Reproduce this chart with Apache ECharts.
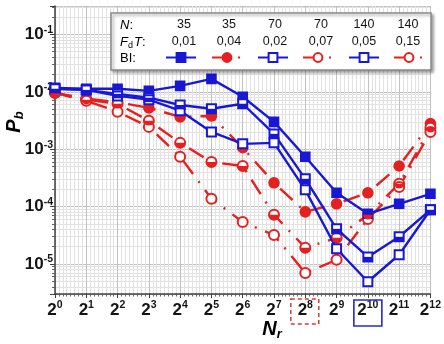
<!DOCTYPE html>
<html>
<head>
<meta charset="utf-8">
<title>P_b vs N_r</title>
<script src="https://cdn.jsdelivr.net/npm/echarts@6.0.0/dist/echarts.min.js"></script>
<style>
  html, body { margin: 0; padding: 0; background: #ffffff; }
  #chart { width: 444px; height: 344px; }
</style>
</head>
<body>
<div id="chart"></div>
<script>
// Number of repetitions N_r = 2^k; the x axis is laid out in k.
const nrExponent = [0, 1, 2, 3, 4, 5, 6, 7, 8, 9, 10, 11, 12];

// Legend table columns
const legendN = ['35', '35', '70', '70', '140', '140'];
const legendFdT = ['0,01', '0,04', '0,02', '0,07', '0,05', '0,15'];

// Bit error probability P_b per configuration (N, F_d T)
const pbN35Fd001 = [1.17e-2, 1.13e-2, 1.13e-2, 1.04e-2, 1.27e-2, 1.68e-2, 8.2e-3, 3.0e-3, 7.4e-4, 1.74e-4, 7.5e-5, 1.12e-4, 1.67e-4];
const pbN70Fd002 = [1.13e-2, 1.08e-2, 9.2e-3, 7.9e-3, 5.9e-3, 5.06e-3, 6.2e-3, 1.85e-3, 3.05e-4, 4.1e-5, 1.33e-5, 2.98e-5, 8.8e-5];
const pbN140Fd005 = [1.13e-2, 1.08e-2, 8.5e-3, 7.3e-3, 4.7e-3, 2.0e-3, 1.24e-3, 1.29e-3, 1.96e-4, 1.84e-5, 4.9e-6, 1.45e-5, 8.8e-5];
const pbN35Fd004 = [9.6e-3, 7.6e-3, 6.6e-3, 5.26e-3, 3.66e-3, 3.8e-3, 1.06e-3, 2.6e-4, 8.1e-5, 1.12e-4, 1.74e-4, 5.1e-4, 2.8e-3];
const pbN70Fd007 = [9.6e-3, 7.3e-3, 6.2e-3, 3.13e-3, 1.29e-3, 6.0e-4, 5.1e-4, 7.2e-5, 1.91e-5, 2.86e-5, 7.2e-5, 2.5e-4, 2.36e-3];
const pbN140Fd015 = [9.6e-3, 7.0e-3, 4.5e-3, 2.45e-3, 7.4e-4, 1.37e-4, 5.4e-5, 3.2e-5, 7.0e-6, 1.18e-5, 6.1e-5, 2.2e-4, 2.0e-3];

// Highlighted N_r exponents on the x axis
const markedRed = 8;
const markedBlue = 10;

const FONT = "'Liberation Sans', Arial, sans-serif";
const BLUE = '#1818d4';
const RED = '#e42020';
const INK = '#141414';

const seriesNames = [
  'N=35, FdT=0,01', 'N=35, FdT=0,04', 'N=70, FdT=0,02',
  'N=70, FdT=0,07', 'N=140, FdT=0,05', 'N=140, FdT=0,15'
];

function points(values) {
  return nrExponent.map((k, i) => [k, values[i]]);
}

const blueLine = { color: BLUE, width: 2.4, type: 'solid' };
const redLine = { color: RED, width: 2.4, type: [17, 9, 2, 9] };

function lineSeries(name, values, symbol, size, lineStyle, color, z) {
  return {
    name: name,
    type: 'line',
    data: points(values),
    symbol: symbol,
    symbolSize: size,
    showAllSymbol: true,
    clip: false,
    z: z,
    lineStyle: lineStyle,
    itemStyle: { color: color, borderColor: color, borderWidth: 1.6 },
    emphasis: { disabled: true }
  };
}

const supRich = {
  b: { fontSize: 17, fontWeight: 'bold', color: INK, fontFamily: FONT, lineHeight: 20 },
  s: { fontSize: 10.5, fontWeight: 'bold', color: INK, fontFamily: FONT, lineHeight: 12, verticalAlign: 'top' }
};

const chart = echarts.init(document.getElementById('chart'), null, { renderer: 'canvas' });

const option = {
  animation: false,
  backgroundColor: '#ffffff',
  grid: { left: 55, right: 4, top: 6, bottom: 50, containLabel: false },
  xAxis: {
    type: 'value',
    min: 0,
    max: 12,
    interval: 1,
    axisLine: { onZero: false, lineStyle: { color: '#404040', width: 1.5 } },
    axisTick: { show: true, length: 4, lineStyle: { color: '#404040', width: 1 } },
    minorTick: { show: true, splitNumber: 8, length: 2.5, lineStyle: { color: '#606060' } },
    splitLine: { show: true, lineStyle: { color: '#c2c2c2', width: 1 } },
    minorSplitLine: { show: true, lineStyle: { color: '#e2e2e2', width: 1 } },
    axisLabel: {
      margin: 6,
      formatter: function (v) { return '{b|2}{s|' + Math.round(v) + '}'; },
      rich: supRich
    }
  },
  yAxis: {
    type: 'log',
    logBase: 10,
    min: 3.0e-6,
    max: 0.313,
    axisLine: { show: true, lineStyle: { color: '#404040', width: 1.5 } },
    axisTick: { show: true, length: 5, lineStyle: { color: '#404040', width: 1 } },
    minorTick: { show: true, splitNumber: 9, length: 3, lineStyle: { color: '#606060' } },
    splitLine: { show: true, lineStyle: { color: '#c2c2c2', width: 1 } },
    minorSplitLine: { show: true, lineStyle: { color: '#e2e2e2', width: 1 } },
    axisLabel: {
      margin: 2,
      formatter: function (v) {
        const e = Math.log10(v);
        if (Math.abs(e - Math.round(e)) > 0.01) return '';
        return '{b|10}{s|' + Math.round(e) + '}';
      },
      rich: supRich
    }
  },
  legend: [165, 211, 257, 302, 348, 393].map((left, i) => ({
    data: [seriesNames[i]],
    left: left,
    top: 52,
    padding: 0,
    itemWidth: 30,
    itemHeight: 11,
    selectedMode: false,
    formatter: function () { return ''; },
    z: 30
  })),
  series: [
    lineSeries(seriesNames[1], pbN35Fd004, 'circle', 10, redLine, RED, 3),
    lineSeries(seriesNames[3], pbN70Fd007, 'emptyCircle', 10, redLine, RED, 3),
    lineSeries(seriesNames[5], pbN140Fd015, 'emptyCircle', 10, redLine, RED, 3),
    lineSeries(seriesNames[0], pbN35Fd001, 'rect', 9, blueLine, BLUE, 5),
    lineSeries(seriesNames[2], pbN70Fd002, 'emptyRect', 9, blueLine, BLUE, 5),
    lineSeries(seriesNames[4], pbN140Fd005, 'emptyRect', 9, blueLine, BLUE, 5)
  ]
};

chart.setOption(option);

// Lower-half fills of the half-open markers, placed through the x and y axes
function halfMarks(values, kind, size, color) {
  const h = size / 2;
  const out = [];
  nrExponent.forEach((k, i) => {
    const px = chart.convertToPixel({ xAxisIndex: 0 }, k);
    const py = chart.convertToPixel({ yAxisIndex: 0 }, values[i]);
    if (!isFinite(px) || !isFinite(py)) return;
    if (kind === 'disk') {
      out.push({
        type: 'sector', z: 50, silent: true,
        shape: { cx: px, cy: py, r0: 0, r: h, startAngle: 0, endAngle: Math.PI, clockwise: true },
        style: { fill: color }
      });
    } else {
      out.push({
        type: 'rect', z: 50, silent: true,
        shape: { x: px - h, y: py, width: 2 * h, height: h },
        style: { fill: color }
      });
    }
  });
  return out;
}

// Legend table, axis titles and the framed tick labels
function buildGraphics() {
  const els = [];
  els.push({
    type: 'rect', z: 20,
    shape: { x: 111, y: 13, width: 320, height: 57 },
    style: {
      fill: '#ffffff', stroke: '#8a8a8a', lineWidth: 1.5,
      shadowBlur: 3, shadowOffsetX: 2, shadowOffsetY: 2, shadowColor: 'rgba(0,0,0,0.35)'
    }
  });
  const rowRich = {
    i: { fontStyle: 'italic', fontSize: 13, fontFamily: FONT, color: INK, lineHeight: 16 },
    r: { fontSize: 13, fontFamily: FONT, color: INK, lineHeight: 16 },
    d: { fontSize: 9, fontFamily: FONT, color: INK, lineHeight: 10, verticalAlign: 'bottom', padding: [0, 1, 0, 0] }
  };
  const rows = [
    { text: '{i|N}{r|:}', y: 25 },
    { text: '{i|F}{d|d}{i|T}{r|:}', y: 42 },
    { text: '{r|BI:}', y: 58 }
  ];
  rows.forEach(row => {
    els.push({
      type: 'text', z: 21, x: 120, y: row.y,
      style: { text: row.text, rich: rowRich, align: 'left', verticalAlign: 'middle' }
    });
  });
  const colX = [184, 229, 275, 321, 364, 408];
  colX.forEach((x, i) => {
    els.push({
      type: 'text', z: 21, x: x, y: 25,
      style: { text: legendN[i], font: '12.5px ' + FONT, fill: INK, align: 'center', verticalAlign: 'middle' }
    });
    els.push({
      type: 'text', z: 21, x: x, y: 42,
      style: { text: legendFdT[i], font: '12.5px ' + FONT, fill: INK, align: 'center', verticalAlign: 'middle' }
    });
  });

  const titleRich = {
    m: { fontSize: 20, fontWeight: 'bold', fontStyle: 'italic', fontFamily: FONT, color: INK, lineHeight: 24 },
    s: { fontSize: 13, fontWeight: 'bold', fontStyle: 'italic', fontFamily: FONT, color: INK, lineHeight: 14, verticalAlign: 'bottom' }
  };
  els.push({
    type: 'text', z: 21, x: 14, y: 122, rotation: Math.PI / 2,
    style: { text: '{m|P}{s|b}', rich: titleRich, align: 'center', verticalAlign: 'middle' }
  });
  els.push({
    type: 'text', z: 21, x: 272, y: 329,
    style: { text: '{m|N}{s|r}', rich: titleRich, align: 'center', verticalAlign: 'middle' }
  });

  const xRed = chart.convertToPixel({ xAxisIndex: 0 }, markedRed);
  const xBlue = chart.convertToPixel({ xAxisIndex: 0 }, markedBlue);
  els.push({
    type: 'rect', z: 21,
    shape: { x: xRed - 14.5, y: 299, width: 28, height: 25 },
    style: { fill: 'none', stroke: '#d83a3a', lineWidth: 1.5, lineDash: [4, 3] }
  });
  els.push({
    type: 'rect', z: 21,
    shape: { x: xBlue - 14, y: 300, width: 28, height: 26 },
    style: { fill: 'none', stroke: '#2a2ac8', lineWidth: 1.6 }
  });

  halfMarks(pbN70Fd007, 'disk', 9.6, RED).forEach(e => els.push(e));
  halfMarks(pbN70Fd002, 'square', 8.8, BLUE).forEach(e => els.push(e));
  return els;
}

chart.setOption({ graphic: { elements: buildGraphics() } });
</script>
</body>
</html>
